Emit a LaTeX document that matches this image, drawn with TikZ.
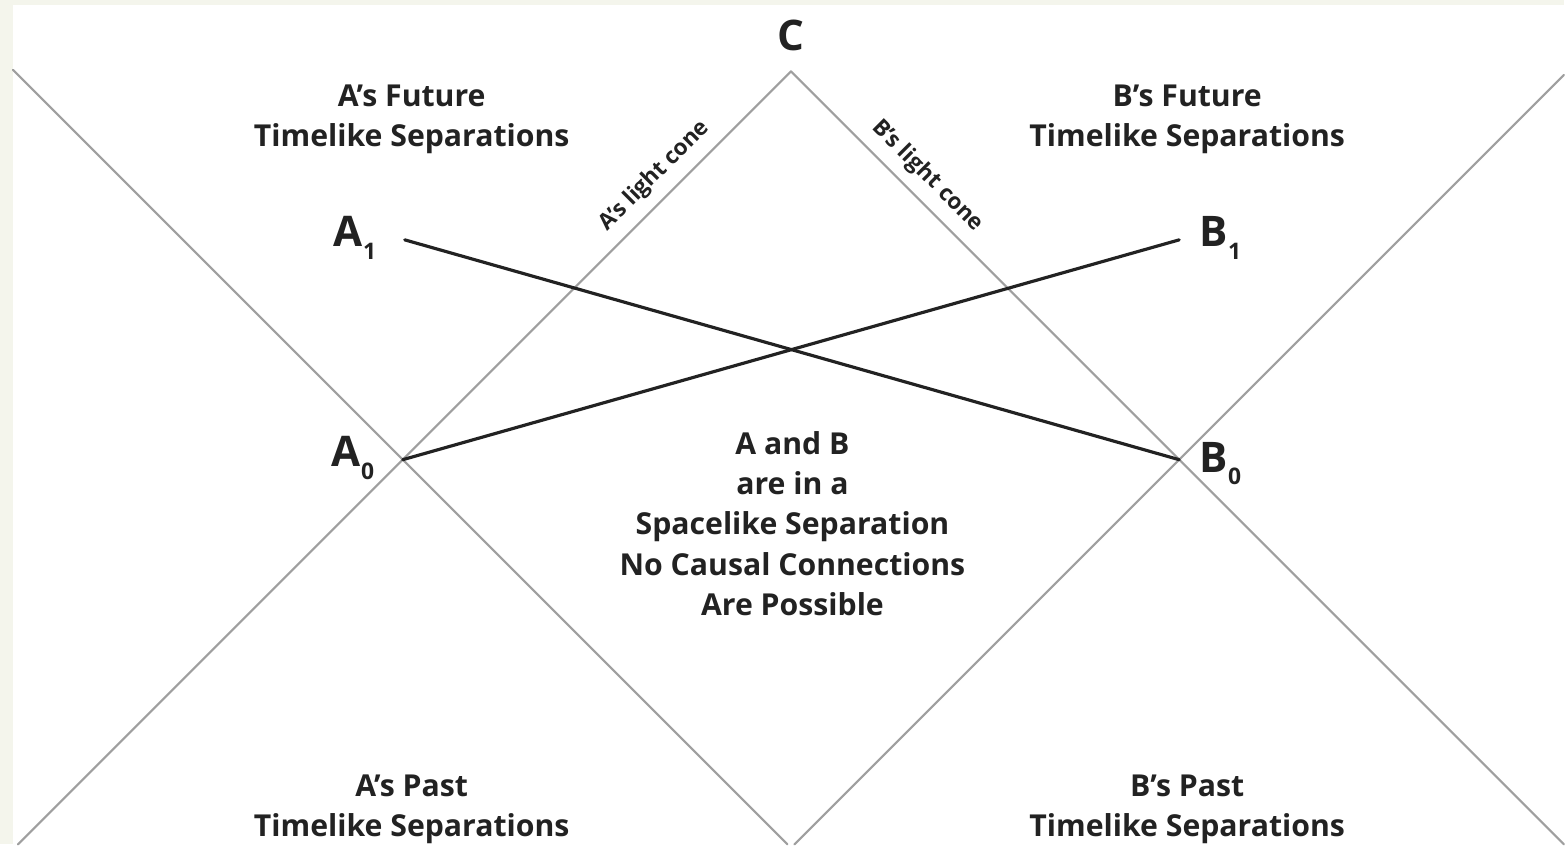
\documentclass[tikz,border=0pt]{standalone}
\usepackage{fontspec}
\setmainfont{Open Sans}
\usepackage{tkz-euclide}
\definecolor{pagebg}{HTML}{F4F5EC}
\definecolor{ink}{HTML}{222222}
\newcommand{\evsub}[1]{\raisebox{-0.55ex}{\fontsize{6.5}{7}\selectfont #1}}
\tikzset{
  cone/.style={draw=gray!75,line width=0.6pt},
  worldline/.style={draw=ink,line width=0.9pt},
  regiontext/.style={align=center,text=ink,font=\fontsize{8.6}{11.4}\selectfont\bfseries},
  conetext/.style={text=ink,font=\fontsize{6.4}{7}\selectfont\bfseries,inner sep=1pt},
  eventtext/.style={text=ink,font=\fontsize{12}{14}\selectfont\bfseries,inner sep=0pt}
}
\begin{document}
\begin{tikzpicture}
                \fill[pagebg] (0,0) rectangle (15.65,8.45);
                \fill[white] (0.13,0) rectangle (15.65,8.40);
                \tkzDefPoints{4.03/3.85/A0,11.80/3.85/B0,4.05/6.05/A1,11.80/6.05/B1,7.915/7.735/C}
                \tkzDefPoints{0.13/7.75/P,7.88/0/Q,0.18/0/R,7.95/0/S,15.65/0/T,15.65/7.70/U}
                \tkzDrawSegments[cone](P,Q R,C C,T S,U)
                \tkzDrawSegments[worldline](A1,B0 A0,B1)
                % events
                \node[eventtext,anchor=south] (c) at ([yshift=0.2cm]C) {C};
                \node[eventtext,anchor=east] (a1) at ([xshift=-0.28cm,yshift=0.02cm]A1) {A\evsub{1}};
                \node[eventtext,anchor=east] (a0) at ([xshift=-0.28cm,yshift=0.02cm]A0) {A\evsub{0}};
                \node[eventtext,anchor=west] (b1) at ([xshift=0.2cm,yshift=0.02cm]B1) {B\evsub{1}};
                \node[eventtext,anchor=west] (b0) at ([xshift=0.2cm,yshift=-0.04cm]B0) {B\evsub{0}};
                % light cones
                \path (A0) -- (C) node[conetext,pos=0.69,sloped,above=2pt] (alc) {A's light cone};
                \path (C) -- (B0) node[conetext,pos=0.31,sloped,above=2pt] (blc) {B's light cone};
                % regions
                \node[regiontext] (afut) at (4.12,7.26) {A's Future\\Timelike Separations};
                \node[regiontext] (bfut) at (11.88,7.26) {B's Future\\Timelike Separations};
                \node[regiontext] (apast) at (4.12,0.35) {A's Past\\Timelike Separations};
                \node[regiontext] (bpast) at (11.88,0.35) {B's Past\\Timelike Separations};
                \node[regiontext] (mid) at (7.93,3.21) {A and B\\are in a\\Spacelike Separation\\No Causal Connections\\Are Possible};
            \end{tikzpicture}
\end{document}
